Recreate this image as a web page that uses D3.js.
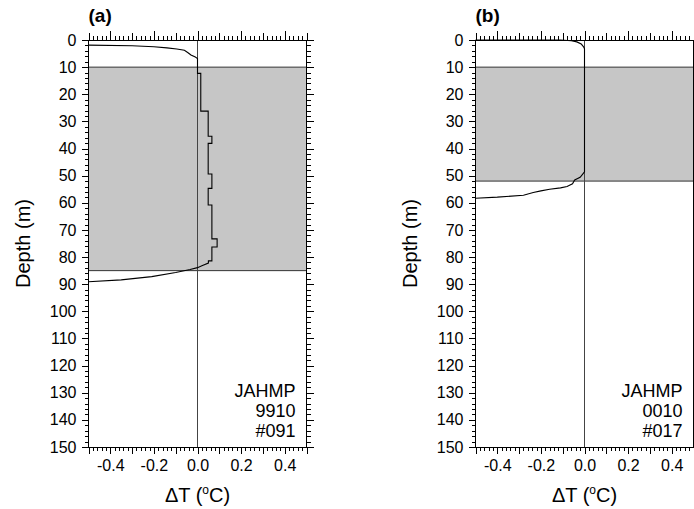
<!DOCTYPE html>
<html lang="en">
<head>
  <meta charset="UTF-8">
  <title>Delta T profiles</title>
  <script src="https://d3js.org/d3.v7.min.js"></script>
  <style>
    body { margin: 0; background: #fff; }
    svg text { font-family: "Liberation Sans", Arial, Helvetica, sans-serif; fill: #000; }
    .axis line { stroke: #000; shape-rendering: crispEdges; }
    .axis .tick text { font-size: 16px; }
  </style>
</head>
<body>
<svg id="chart" width="694" height="509"></svg>

<script>

// panel names and station text
var panelNames = ["(a)", "(b)"];
var stationA = ["JAHMP", "9910", "#091"];
var stationB = ["JAHMP", "0010", "#017"];

// tick labels
var dtTicks = [-0.4, -0.2, 0.0, 0.2, 0.4];
var depthTicks = [0, 10, 20, 30, 40, 50, 60, 70, 80, 90, 100, 110, 120, 130, 140, 150];

// shaded layer, top and bottom depth (m)
var layerA = [10, 85];
var layerB = [10, 52];

// profiles: [dT, depth]
var profileA = [
  [-0.50, 1.9], [-0.30, 2.1], [-0.20, 2.5], [-0.14, 2.9], [-0.095, 3.3], [-0.06, 3.8],
  [-0.045, 4.6], [-0.03, 5.5], [-0.01, 6.3], [0.0, 6.8], [0.0, 12.3], [0.015, 12.3],
  [0.015, 26.2], [0.049, 26.2], [0.049, 35.5], [0.066, 35.5], [0.066, 38.1], [0.049, 38.1],
  [0.049, 49.4], [0.066, 49.4], [0.066, 54.7], [0.049, 54.7], [0.049, 60.8], [0.066, 60.8],
  [0.066, 73.3], [0.09, 73.3], [0.09, 76.3], [0.066, 76.3], [0.066, 81.4], [0.05, 81.4],
  [0.05, 82.2], [0.02, 83.2], [0.0, 83.9], [-0.034, 84.6], [-0.10, 85.7], [-0.21, 87.2],
  [-0.35, 88.4], [-0.50, 89.1]
];
var profileB = [
  [-0.50, 0.0], [-0.11, 0.0], [-0.06, 0.3], [-0.035, 0.7], [-0.015, 1.5], [-0.005, 2.4],
  [0.0, 3.2], [0.0, 48.6], [-0.01, 49.6], [-0.02, 50.6], [-0.045, 51.6], [-0.055, 53.0],
  [-0.08, 54.0], [-0.11, 54.5], [-0.16, 55.0], [-0.20, 55.6], [-0.235, 56.2], [-0.28, 57.2],
  [-0.40, 57.9], [-0.50, 58.3]
];

var plotTop = 40, width = 218, height = 407;
var svg = d3.select("#chart");

function panel(left, profile, layer, name, station) {
  var g = svg.append("g").attr("transform", "translate(" + left + "," + plotTop + ")");

  var x = d3.scaleLinear().domain([-0.5, 0.5]).range([0, width]);
  var y = d3.scaleLinear().domain([0, 150]).range([0, height]);

  // shaded layer
  g.append("rect")
    .attr("x", 0).attr("y", y(layer[0]))
    .attr("width", width).attr("height", y(layer[1]) - y(layer[0]))
    .attr("fill", "#c6c6c6");
  layer.forEach(function(d) {
    g.append("line")
      .attr("x1", 0).attr("x2", width)
      .attr("y1", y(d)).attr("y2", y(d))
      .attr("stroke", "#333").attr("stroke-width", 1);
  });

  // zero line
  g.append("line")
    .attr("x1", x(0)).attr("x2", x(0))
    .attr("y1", 0).attr("y2", height)
    .attr("stroke", "#444").attr("stroke-width", 1);

  // profile
  g.append("path")
    .datum(profile)
    .attr("fill", "none")
    .attr("stroke", "#000")
    .attr("stroke-width", 1.1)
    .attr("d", d3.line().x(function(d) { return x(d[0]); }).y(function(d) { return y(d[1]); }));

  // ticks
  var xMinor = d3.range(-25, 26).map(function(i) { return i / 50; });
  var xMid = d3.range(-5, 6).map(function(i) { return i / 10; });
  var yMinor = d3.range(0, 76).map(function(i) { return i * 2; });

  function noLine(sel) { sel.select(".domain").remove(); }

  g.append("g").attr("class", "axis")
    .call(d3.axisTop(x).tickValues(xMinor).tickSize(4).tickFormat("")).call(noLine);
  g.append("g").attr("class", "axis")
    .call(d3.axisTop(x).tickValues(xMid).tickSize(7).tickFormat("")).call(noLine);
  g.append("g").attr("class", "axis")
    .call(d3.axisTop(x).tickValues(dtTicks).tickSize(9).tickFormat("")).call(noLine);

  g.append("g").attr("class", "axis")
    .attr("transform", "translate(0," + height + ")")
    .call(d3.axisBottom(x).tickValues(xMinor).tickSize(4).tickFormat("")).call(noLine);
  g.append("g").attr("class", "axis")
    .attr("transform", "translate(0," + height + ")")
    .call(d3.axisBottom(x).tickValues(xMid).tickSize(7).tickFormat("")).call(noLine);
  g.append("g").attr("class", "axis")
    .attr("transform", "translate(0," + height + ")")
    .call(d3.axisBottom(x).tickValues(dtTicks).tickSize(7).tickPadding(6)
      .tickFormat(function(d) { return d.toFixed(1); })).call(noLine);

  g.append("g").attr("class", "axis")
    .call(d3.axisLeft(y).tickValues(yMinor).tickSize(4).tickFormat("")).call(noLine);
  g.append("g").attr("class", "axis")
    .call(d3.axisLeft(y).tickValues(depthTicks).tickSize(7).tickPadding(5)
      .tickFormat(function(d) { return d; })).call(noLine);

  g.append("g").attr("class", "axis")
    .attr("transform", "translate(" + width + ",0)")
    .call(d3.axisRight(y).tickValues(yMinor).tickSize(4).tickFormat("")).call(noLine);
  g.append("g").attr("class", "axis")
    .attr("transform", "translate(" + width + ",0)")
    .call(d3.axisRight(y).tickValues(depthTicks).tickSize(7).tickFormat("")).call(noLine);

  // frame
  g.append("rect")
    .attr("width", width).attr("height", height)
    .attr("fill", "none").attr("stroke", "#000").attr("stroke-width", 1)
    .attr("shape-rendering", "crispEdges");

  // panel name
  g.append("text")
    .attr("x", 0).attr("y", -18)
    .attr("font-size", 19).attr("font-weight", "bold")
    .text(name);

  // station text
  g.append("g").selectAll("text")
    .data(station)
    .enter().append("text")
    .attr("x", width - 11)
    .attr("y", function(d, i) { return 357 + i * 20; })
    .attr("text-anchor", "end")
    .attr("font-size", 18)
    .text(function(d) { return d; });

  // axis titles
  var xt = g.append("text")
    .attr("x", x(0)).attr("y", height + 55)
    .attr("text-anchor", "middle")
    .attr("font-size", 20);
  xt.append("tspan").text("\u0394T (");
  xt.append("tspan").attr("font-size", 12).attr("dy", -8).text("o");
  xt.append("tspan").attr("dy", 8).text("C)");

  g.append("text")
    .attr("transform", "translate(-59," + (height / 2) + ") rotate(-90)")
    .attr("text-anchor", "middle")
    .attr("font-size", 20)
    .text("Depth (m)");
}

panel(88.5, profileA, layerA, panelNames[0], stationA);
panel(475.5, profileB, layerB, panelNames[1], stationB);

</script>
</body>
</html>
